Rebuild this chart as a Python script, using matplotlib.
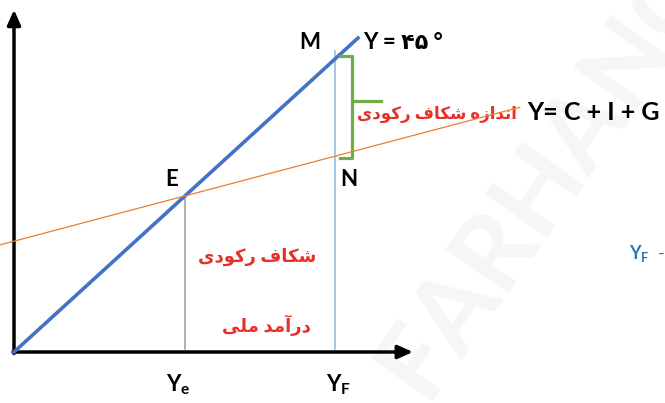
import numpy as np
import matplotlib.pyplot as plt

# model values (data units, 45-degree line is Y = Y)
income = [0, 100]
autonomous = 35.3      # C + I + G intercept
mpc = 0.29             # slope of C + I + G
ae_range = [-4.1, 147]
y_full = 93.3
y_eq = autonomous / (1 - mpc)

labels = {
    'gap_size': 'اندازه شکاف رکودی',
    'gap': 'شکاف رکودی',
    'income': 'درآمد ملی',
}

FORMS = {
    'ا': ('\uFE8D', '\uFE8E', None, None),
    'آ': ('\uFE81', '\uFE82', None, None),
    'د': ('\uFEA9', '\uFEAA', None, None),
    'ر': ('\uFEAD', '\uFEAE', None, None),
    'ز': ('\uFEAF', '\uFEB0', None, None),
    'و': ('\uFEED', '\uFEEE', None, None),
    'ن': ('\uFEE5', '\uFEE6', '\uFEE7', '\uFEE8'),
    'ه': ('\uFEE9', '\uFEEA', '\uFEEB', '\uFEEC'),
    'ش': ('\uFEB5', '\uFEB6', '\uFEB7', '\uFEB8'),
    'ک': ('\uFB8E', '\uFB8F', '\uFB90', '\uFB91'),
    'ف': ('\uFED1', '\uFED2', '\uFED3', '\uFED4'),
    'ی': ('\uFBFC', '\uFBFD', '\uFBFE', '\uFBFF'),
    'م': ('\uFEE1', '\uFEE2', '\uFEE3', '\uFEE4'),
    'ل': ('\uFEDD', '\uFEDE', '\uFEDF', '\uFEE0'),
}


def shape(text):
    # join persian letters by hand and reverse for right-to-left display
    out = []
    for i, ch in enumerate(text):
        if ch not in FORMS:
            out.append(ch)
            continue
        prev = text[i - 1] if i > 0 else ' '
        nxt = text[i + 1] if i < len(text) - 1 else ' '
        join_prev = prev in FORMS and FORMS[prev][2] is not None
        join_next = FORMS[ch][2] is not None and nxt in FORMS
        iso, fin, ini, med = FORMS[ch]
        if join_prev and join_next:
            out.append(med)
        elif join_prev:
            out.append(fin)
        elif join_next:
            out.append(ini)
        else:
            out.append(iso)
    return ''.join(out)[::-1]


plt.rcParams['font.family'] = ['Lato', 'DejaVu Sans']
plt.rcParams['mathtext.fontset'] = 'custom'
plt.rcParams['mathtext.bf'] = 'Lato:bold'
plt.rcParams['mathtext.rm'] = 'Lato:bold'

fig = plt.figure(figsize=(6.65, 4.03), dpi=100)
ax = fig.add_axes([0, 0, 1, 1])
ax.set_xlim(-14 / 3.44, 651 / 3.44)
ax.set_ylim(-51 / 3.14, 352 / 3.14)
ax.axis('off')

# faint watermark
ax.text(425, 2, 'FARHANG', transform=None, fontsize=76, color='#f6f6f6',
        rotation=55, rotation_mode='anchor', ha='left', va='baseline',
        fontweight='bold', zorder=0)

# axes arrows
arrow = dict(arrowstyle='-|>,head_length=0.9,head_width=0.4', color='black', lw=2.5,
             shrinkA=0, shrinkB=0)
ax.annotate('', xy=(0, 109), xytext=(0, -0.5), arrowprops=arrow)
ax.annotate('', xy=(116, 0), xytext=(-0.3, 0), arrowprops=arrow)

# lines
x_ae = np.array(ae_range)
ax.plot(x_ae, autonomous + mpc * x_ae, color='#ed7d31', lw=0.9, zorder=5)
ax.plot(income, income, color='#4472c4', lw=2.6, zorder=3)
ax.plot([y_eq, y_eq], [1, y_eq], color='#a6a6a6', lw=1.2, zorder=1)
ax.plot([y_full, y_full], [1, y_full + 2.5], color='#9dc3e6', lw=1.3, zorder=1)

# brace between M and N
ae_full = autonomous + mpc * y_full
bx = y_full + 5
ax.plot([y_full + 1.5, bx, bx, y_full + 1.5], [y_full + 1, y_full + 1, ae_full - 0.5, ae_full - 0.5],
        color='#70ad47', lw=2.3, zorder=4)
ax.plot([bx, bx + 8.5], [(y_full + ae_full) / 2 + 2, (y_full + ae_full) / 2 + 2],
        color='#70ad47', lw=2.3, zorder=4)

# labels
ax.text(86, 98.5, 'M', fontsize=16, fontweight='bold', ha='center', va='center')
ax.text(101.5, 98.5, 'Y = ۴۵ °', fontsize=16, fontweight='bold', ha='left', va='center')
ax.text(45.9, 54.8, 'E', fontsize=16, fontweight='bold', ha='center', va='center')
ax.text(97.4, 54.8, 'N', fontsize=16, fontweight='bold', ha='center', va='center')
ax.text(149.2, 76.3, 'Y= C + I + G', fontsize=18, fontweight='bold', ha='left', va='center')
ax.text(123.0, 75.5, shape(labels['gap_size']), fontsize=12, fontweight='bold',
        color='#e8302a', ha='center', va='center', zorder=4)
ax.text(70.6, 30.3, shape(labels['gap']), fontsize=13, fontweight='bold',
        color='#e8302a', ha='center', va='center')
ax.text(73.3, 8.6, shape(labels['income']), fontsize=13, fontweight='bold',
        color='#e8302a', ha='center', va='center')
ax.text(47.7, -10.5, r'$\mathbf{Y_e}$', fontsize=16, ha='center', va='center')
ax.text(94.2, -10.5, r'$\mathbf{Y_F}$', fontsize=16, ha='center', va='center')
ax.text(178.8, 31.5, r'$\mathbf{Y_F}$  -', fontsize=13, color='#2e75b6',
        ha='left', va='center')

fig.savefig('out.png', dpi=100)
